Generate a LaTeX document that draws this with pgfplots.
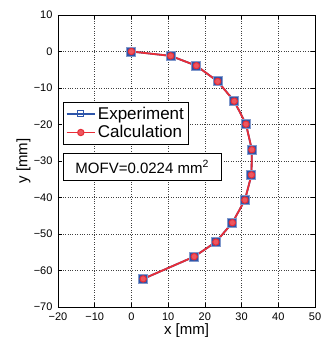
\documentclass[border=0pt]{standalone}
\usepackage{pgfplots}
\pgfplotsset{compat=1.18}
\usepackage{fontspec}
\setmainfont{Liberation Sans}
\definecolor{expblue}{RGB}{45,85,170}
\definecolor{calcred}{RGB}{232,45,55}
\begin{document}
\begin{tikzpicture}
\useasboundingbox (-58pt,-30pt) rectangle (263pt,307pt);
\begin{axis}[
  at={(0,0)}, anchor=south west,
  scale only axis, width=257pt, height=292pt,
  xmin=-20, xmax=50, ymin=-70, ymax=10,
  xtick={-20,-10,...,50}, ytick={-70,-60,...,10},
  xticklabels={−20,−10,0,10,20,30,40,50},
  yticklabels={−70,−60,−50,−40,−30,−20,−10,0,10},
  grid=major, grid style={black!75, dotted, line width=0.6pt},
  tick align=inside, major tick length=4pt,
  tick style={black, line width=0.5pt},
  axis line style={black, line width=0.8pt},
  ticklabel style={font=\fontsize{11}{13}\selectfont},
  xticklabel style={yshift=-2pt},
  yticklabel style={xshift=-2pt},
  label style={font=\fontsize{15}{17}\selectfont},
  xlabel={x [mm]}, ylabel={y [mm]},
  xlabel style={at={(rel axis cs:0.5,0)}, anchor=north, yshift=-13pt},
  ylabel style={at={(rel axis cs:0,0.5)}, anchor=south, yshift=24pt},
  legend style={at={(axis cs:-18.7,-13.8)}, anchor=north west, draw=black,
    line width=0.8pt, font=\fontsize{17}{20}\selectfont, inner sep=2.5pt,
    row sep=1pt, cells={anchor=west}},
  legend image code/.code={\draw[mark repeat=2,mark phase=2] plot coordinates {(0cm,0cm) (0.5cm,0cm) (1cm,0cm)};},
]
\addplot[forget plot, expblue, line width=1.8pt, mark=square*, mark size=4.5pt, mark options={draw=expblue!60!white, line width=1pt, fill=expblue}]
 coordinates {(0,0) (10.7,-1.2) (17.7,-3.9) (23.5,-8.2) (28.0,-13.6) (31.2,-19.9) (32.8,-26.9) (32.7,-33.8) (30.9,-40.7) (27.5,-46.9) (23.0,-52.2) (17.1,-56.2) (3.2,-62.3)};
\addlegendimage{expblue, line width=1.8pt, mark=square, mark size=3pt, mark options={expblue, line width=1.2pt}}
\addlegendentry{Experiment}
\addplot[calcred, line width=1.8pt, mark=*, mark size=3.2pt, mark options={calcred, line width=1pt, fill=calcred!80!white}]
 coordinates {(0,0) (10.7,-1.2) (17.7,-3.9) (23.5,-8.2) (28.0,-13.6) (31.2,-19.9) (32.8,-26.9) (32.7,-33.8) (30.9,-40.7) (27.5,-46.9) (23.0,-52.2) (17.1,-56.2) (3.2,-62.3)};
\addlegendentry{Calculation}
\node[draw=black, line width=0.8pt, fill=white, anchor=north west, minimum width=158pt, minimum height=27pt, font=\fontsize{15}{17}\selectfont] at (axis cs:-18.7,-27.8) {MOFV=0.0224 mm$^{\mathrm{2}}$};
\end{axis}
\end{tikzpicture}
\end{document}
